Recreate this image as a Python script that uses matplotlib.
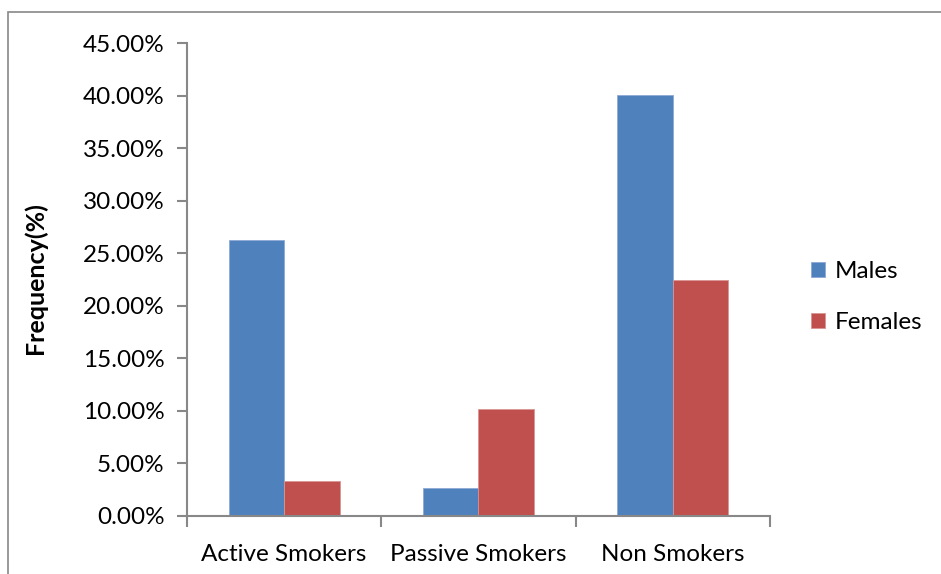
import matplotlib.pyplot as plt
import numpy as np
from matplotlib.patches import Rectangle
from matplotlib.ticker import FuncFormatter

categories = ["Active Smokers", "Passive Smokers", "Non Smokers"]
males = [26.3, 2.7, 40.1]
females = [3.3, 10.2, 22.5]

plt.rcParams['font.family'] = ['Lato', 'DejaVu Sans']

fig = plt.figure(figsize=(9.41, 5.74), dpi=100)
ax = fig.add_axes([187 / 941, 1 - 516 / 574, (770 - 187) / 941, (516 - 43) / 574])

# outer chart border (Excel style)
fig.patches.append(Rectangle((8 / 941, -0.05), 1.0, 1 - 12 / 574 + 0.05,
                             transform=fig.transFigure, fill=False,
                             edgecolor='#888888', linewidth=1.2))

x = np.arange(len(categories))
w = 0.286
ax.bar(x - w / 2, males, w, color='#4F81BD', label='Males', edgecolor='#8EA9D6', linewidth=0.6)
ax.bar(x + w / 2, females, w, color='#C0504D', label='Females', edgecolor='#D99594', linewidth=0.6)

ax.set_xlim(-0.5, 2.5)
ax.set_ylim(0, 45)
ax.set_yticks(np.arange(0, 46, 5))
ax.yaxis.set_major_formatter(FuncFormatter(lambda v, p: f"{v:.2f}%"))
ax.set_xticks(x)
ax.set_xticklabels(categories)
ax.set_xticks([-0.5, 0.5, 1.5, 2.5], minor=True)
ax.tick_params(axis='x', which='major', length=0, pad=20, labelsize=17.5)
ax.tick_params(axis='x', which='minor', length=8, width=1.5, color='#888888')
ax.tick_params(axis='y', length=7, width=1.5, color='#888888', labelsize=17.5, pad=9)

for s in ['top', 'right']:
    ax.spines[s].set_visible(False)
for s in ['left', 'bottom']:
    ax.spines[s].set_color('#888888')
    ax.spines[s].set_linewidth(1.5)

fig.text(35 / 941, 1 - 278 / 574, "Frequency(%)", rotation=90, va='center', ha='center',
         fontsize=18, fontweight='bold')

ax.legend(loc='center left', bbox_to_anchor=(789 / 941, 1 - 297 / 574),
          bbox_transform=fig.transFigure, frameon=False, fontsize=17.5,
          handlelength=0.6, handleheight=0.6, handletextpad=0.4, labelspacing=1.25)

fig.savefig("out.png", dpi=100)
